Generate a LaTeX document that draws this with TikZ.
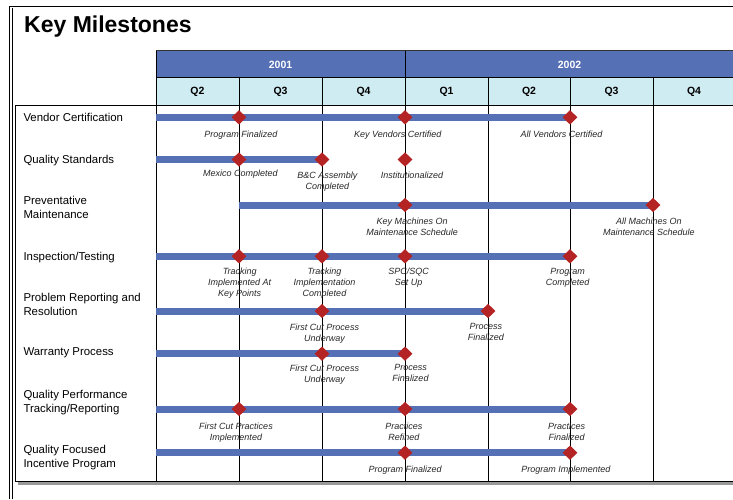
\documentclass[tikz,border=0pt]{standalone}
\usepackage{fontspec}
\setmainfont{Liberation Sans}
\usetikzlibrary{shapes.geometric}
\definecolor{hdrblue}{RGB}{86,112,182}
\definecolor{barblue}{RGB}{86,112,182}
\definecolor{qblue}{RGB}{208,236,243}
\definecolor{msred}{RGB}{180,36,36}
\begin{document}
\begin{tikzpicture}[x=1pt,y=-1pt,
  ms/.style={diamond,fill=msred,draw=none,minimum width=15pt,minimum height=14.5pt,inner sep=0pt},
  bar/.style={barblue,line width=7pt},
  lbl/.style={font=\fontsize{9}{11}\selectfont\itshape,align=center,anchor=north,inner sep=0pt,text=black!85},
  rowlbl/.style={font=\fontsize{11.4}{14}\selectfont,align=left,anchor=north west,inner sep=0pt},
  hdr/.style={font=\fontsize{10.5}{12}\selectfont\bfseries,inner sep=0pt},
  gridline/.style={black,line width=0.9pt},
  frame/.style={black,line width=1.4pt}]
\useasboundingbox (0,0) rectangle (733,499);
% outer frame
\draw[frame] (9.7,499) -- (9.7,6.5) -- (733,6.5);
\draw[black,line width=0.8pt] (12.2,499) -- (12.2,8);
\node[anchor=base west,inner sep=0pt,font=\fontsize{23}{26}\selectfont\bfseries] (title) at (24,32.5) {Key Milestones};
% header
\fill[hdrblue] (156,50.5) rectangle (733,77.5);
\fill[qblue] (156,77.5) rectangle (733,105);
% shadow and table
\fill[black!40] (18,481.5) rectangle (733,485);
\fill[white] (15,105) rectangle (156,481);
\draw[gridline,black!80] (156,50.5) -- (733,50.5);
\draw[gridline] (156,77.5) -- (733,77.5);
\draw[gridline] (405,50.5) -- (405,77.5);
\draw[gridline] (15,105) -- (733,105);
\draw[gridline] (15,105) -- (15,481) -- (733,481);
\draw[gridline] (156,50.5) -- (156,481);
\foreach \x in {239,322,405,488,570,653}
  \draw[gridline] (\x,77.5) -- (\x,481);
\node[hdr,text=white] (y2001) at (280.5,64.5) {2001};
\node[hdr,text=white] (y2002) at (569.5,64.5) {2002};
\node[hdr] (q1) at (197.5,92) {Q2};
\node[hdr] (q2) at (280.5,92) {Q3};
\node[hdr] (q3) at (363.5,92) {Q4};
\node[hdr] (q4) at (446.5,92) {Q1};
\node[hdr] (q5) at (529,92) {Q2};
\node[hdr] (q6) at (611.5,92) {Q3};
\node[hdr] (q7) at (694,92) {Q4};
% row labels
\node[rowlbl] (r1) at (23.3,113.1) {Vendor Certification};
\node[rowlbl] (r2) at (23.3,155.1) {Quality Standards};
\node[rowlbl] (r3) at (23.3,195.8) {Preventative\\Maintenance};
\node[rowlbl] (r4) at (23.3,251.8) {Inspection/Testing};
\node[rowlbl] (r5) at (23.3,293.1) {Problem Reporting and\\Resolution};
\node[rowlbl] (r6) at (23.3,347.5) {Warranty Process};
\node[rowlbl] (r7) at (23.3,389.8) {Quality Performance\\Tracking/Reporting};
\node[rowlbl] (r8) at (23.3,445.1) {Quality Focused\\Incentive Program};
% milestone coordinates
\coordinate (s1) at (156,117.3); \coordinate (a1) at (239,117.3); \coordinate (b1) at (405,117.3); \coordinate (c1) at (570,117.3);
\coordinate (s2) at (156,159.5); \coordinate (a2) at (239,159.5); \coordinate (b2) at (322,159.5); \coordinate (c2) at (405,159.5);
\coordinate (s3) at (239,205); \coordinate (a3) at (405,205); \coordinate (b3) at (653,205);
\coordinate (s4) at (156,256.3); \coordinate (a4) at (239,256.3); \coordinate (b4) at (322,256.3); \coordinate (c4) at (405,256.3); \coordinate (d4) at (570,256.3);
\coordinate (s5) at (156,311); \coordinate (a5) at (322,311); \coordinate (b5) at (488,311);
\coordinate (s6) at (156,353.7); \coordinate (a6) at (322,353.7); \coordinate (b6) at (405,353.7);
\coordinate (s7) at (156,409); \coordinate (a7) at (239,409); \coordinate (b7) at (405,409); \coordinate (c7) at (570,409);
\coordinate (s8) at (156,452.7); \coordinate (a8) at (405,452.7); \coordinate (b8) at (570,452.7);
% bars
\draw[bar] (s1) -- (c1);
\draw[bar] (s2) -- (b2);
\draw[bar] (s3) -- (b3);
\draw[bar] (s4) -- (d4);
\draw[bar] (s5) -- (b5);
\draw[bar] (s6) -- (b6);
\draw[bar] (s7) -- (c7);
\draw[bar] (s8) -- (b8);
% diamonds
\foreach \m in {a1,b1,c1,a2,b2,c2,a3,b3,a4,b4,c4,d4,a5,b5,a6,b6,a7,b7,c7,a8,b8}
  \node[ms] (m\m) at (\m) {};
% milestone labels
\node[lbl] (l1a) at (240.8,130.4) {Program Finalized};
\node[lbl] (l1b) at (397.8,130.4) {Key Vendors Certified};
\node[lbl] (l1c) at (561.5,130.4) {All Vendors Certified};
\node[lbl] (l2a) at (240.3,170) {Mexico Completed};
\node[lbl] (l2b) at (327.3,171.4) {B\&C Assembly\\Completed};
\node[lbl] (l2c) at (412,171.4) {Institutionalized};
\node[lbl] (l3a) at (412.2,218) {Key Machines On\\Maintenance Schedule};
\node[lbl] (l3b) at (648.8,218) {All Machines On\\Maintenance Schedule};
\node[lbl] (l4a) at (239.7,267.7) {Tracking\\Implemented At\\Key Points};
\node[lbl] (l4b) at (324.5,267.7) {Tracking\\Implementation\\Completed};
\node[lbl] (l4c) at (408.6,267.7) {SPC/SQC\\Set Up};
\node[lbl] (l4d) at (567.7,267.7) {Program\\Completed};
\node[lbl] (l5a) at (324.5,323.4) {First Cut Process\\Underway};
\node[lbl] (l5b) at (485.8,323.4) {Process\\Finalized};
\node[lbl] (l6a) at (324.5,364.4) {First Cut Process\\Underway};
\node[lbl] (l6b) at (410.5,364.4) {Process\\Finalized};
\node[lbl] (l7a) at (236,422.4) {First Cut Practices\\Implemented};
\node[lbl] (l7b) at (403.8,422.4) {Practices\\Refined};
\node[lbl] (l7c) at (566.6,422.4) {Practices\\Finalized};
\node[lbl] (l8a) at (405.2,465.7) {Program Finalized};
\node[lbl] (l8b) at (565.8,465.7) {Program Implemented};
\end{tikzpicture}
\end{document}
